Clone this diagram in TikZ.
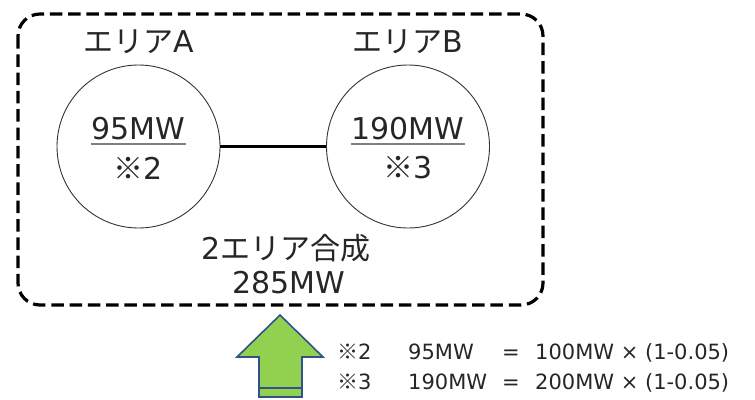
\documentclass[tikz,border=0pt]{standalone}
\usepackage{fontspec}
\setmainfont{DejaVu Sans}
\newfontfamily\jp{Noto Sans CJK JP}
\definecolor{txt}{HTML}{262626}
\definecolor{agreen}{HTML}{92D050}
\definecolor{ablue}{HTML}{2F528F}
\begin{document}
\begin{tikzpicture}[x=1pt,y=-1pt,
  area/.style={draw=black,line width=3.2pt,dash pattern=on 12.5pt off 5.8pt,rounded corners=22pt},
  circ/.style={circle,draw=black!80,line width=0.9pt,minimum size=163pt,inner sep=0pt},
  big/.style={text=txt,font=\fontsize{30}{34}\selectfont,inner sep=0pt},
  small/.style={text=txt,font=\fontsize{21}{24}\selectfont,inner sep=0pt,anchor=base west},
  ul/.style={draw=black!50,line width=2pt},
  link/.style={draw=black,line width=3pt}]
\useasboundingbox (0,0) rectangle (755,399);
\draw[area] (18,14) rectangle (543,305);
\node[circ] (ca) at (138.5,146.5) {};
\node[circ] (cb) at (408,146.5) {};
\draw[link] (ca.east) -- (cb.west);
\node[big] (la) at (138.5,42) {{\jp エリア}A};
\node[big] (lb) at (408,42) {{\jp エリア}B};
\node[big] (va) at (138.5,129) {95MW};
\node[big] (ra) at (138.5,168) {{\jp ※}2};
\node[big] (vb) at (408,129) {190MW};
\node[big] (rb) at (408,168) {{\jp ※}3};
\draw[ul] ([yshift=-3pt]va.south west) -- ([yshift=-3pt]va.south east);
\draw[ul] ([yshift=-3pt]vb.south west) -- ([yshift=-3pt]vb.south east);
\node[big] (sa) at (286,248) {2{\jp エリア合成}};
\node[big] (sb) at (289,283) {285MW};
% arrow
\coordinate (tip) at (280,315);
\path[fill=agreen,draw=ablue,line width=1.6pt,line join=miter]
  (tip) -- (323,357) -- (302,357) -- (302,397) -- (259,397) -- (259,357) -- (237,357) -- cycle;
\draw[ablue,line width=1.6pt] (259,388) -- (302,388);
% notes
\node[small] (n1a) at (337,359) {{\jp ※}2};
\node[small] (n1b) at (408,359) {95MW};
\node[small] (n1c) at (502,359) {=};
\node[small] (n1d) at (535,359) {100MW × (1-0.05)};
\node[small] (n2a) at (337,389) {{\jp ※}3};
\node[small] (n2b) at (408,389) {190MW};
\node[small] (n2c) at (502,389) {=};
\node[small] (n2d) at (535,389) {200MW × (1-0.05)};
\end{tikzpicture}
\end{document}
